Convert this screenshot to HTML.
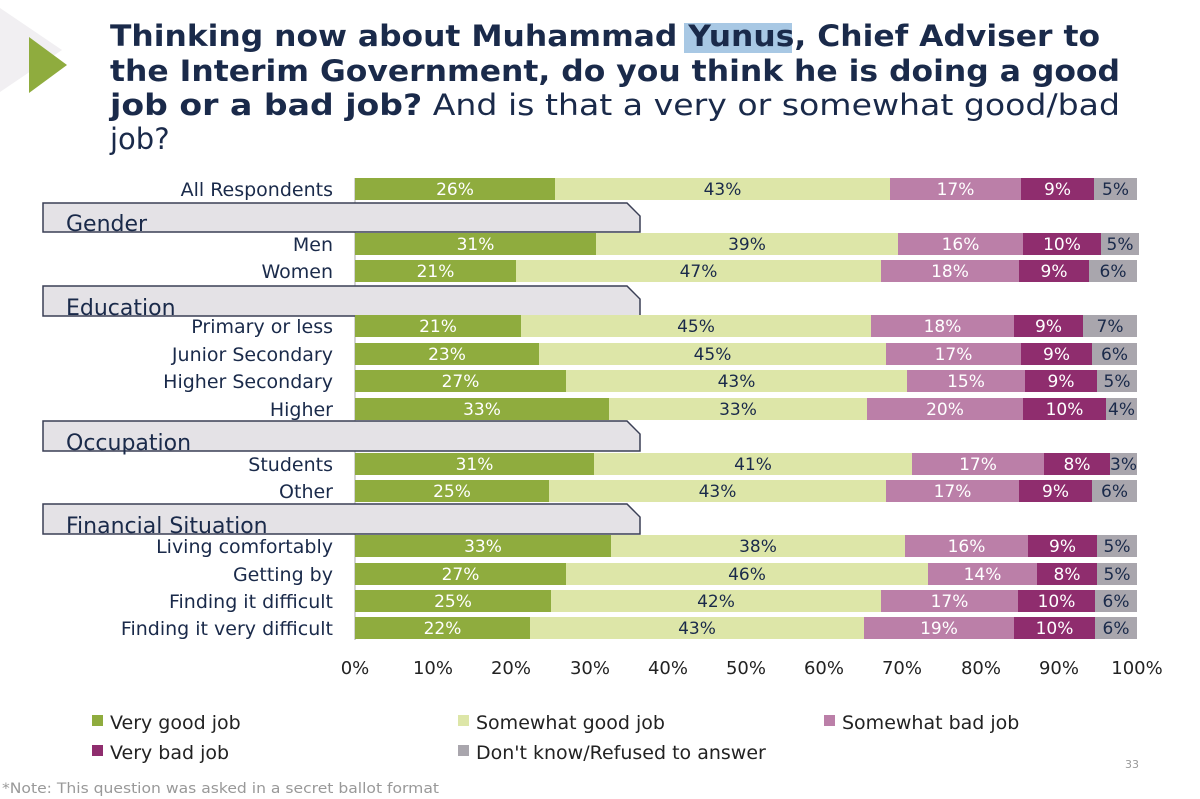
<!DOCTYPE html>
<html><head><meta charset="utf-8"><style>
html,body{margin:0;padding:0;background:#fff;}
svg{display:block;font-family:"DejaVu Sans","Liberation Sans",sans-serif;}
</style></head><body>
<svg width="1200" height="799" viewBox="0 0 1200 799" xmlns="http://www.w3.org/2000/svg">
<polygon points="0,8 0,92 62,50" fill="#f1eff2"/>
<polygon points="29,37 29,93 67,65" fill="#8fac3e"/>
<rect x="684" y="23" width="108" height="30" fill="#a8c8e4"/>
<g fill="#1a2a4a" font-size="29">
<text x="110" y="46" font-weight="bold" textLength="990" lengthAdjust="spacingAndGlyphs">Thinking now about Muhammad Yunus, Chief Adviser to</text>
<text x="110" y="81" font-weight="bold" textLength="1010" lengthAdjust="spacingAndGlyphs">the Interim Government, do you think he is doing a good</text>
<text x="110" y="115" textLength="1010" lengthAdjust="spacingAndGlyphs"><tspan font-weight="bold">job or a bad job?</tspan> And is that a very or somewhat good/bad</text>
<text x="110" y="149">job?</text>
</g>
<line x1="355" y1="178" x2="355" y2="640" stroke="#aaa" stroke-width="1"/>
<g fill="#e4e2e6" stroke="#3a3f55" stroke-width="1.5">
<path d="M43,203 L627,203 L640,216 L640,232 L43,232 Z"/>
<path d="M43,286 L627,286 L640,299 L640,316 L43,316 Z"/>
<path d="M43,421 L627,421 L640,434 L640,451 L43,451 Z"/>
<path d="M43,504 L627,504 L640,517 L640,534 L43,534 Z"/>
</g>
<g fill="#1a2a4a" font-size="22">
<text x="66" y="231">Gender</text>
<text x="66" y="315">Education</text>
<text x="66" y="450">Occupation</text>
<text x="66" y="533">Financial Situation</text>
</g>
<g id="bars" font-size="17" text-anchor="middle"></g>
<g fill="#1a2a4a" font-size="19" text-anchor="end" id="labels"></g>
<g font-size="18" fill="#222" text-anchor="middle">
<text x="355" y="674">0%</text><text x="433" y="674">10%</text><text x="511" y="674">20%</text><text x="590" y="674">30%</text><text x="668" y="674">40%</text><text x="746" y="674">50%</text><text x="824" y="674">60%</text><text x="902" y="674">70%</text><text x="981" y="674">80%</text><text x="1059" y="674">90%</text><text x="1137" y="674">100%</text>
</g>
<g font-size="19" fill="#222">
<rect x="92" y="715" width="11" height="11" fill="#8fac3e"/><text x="110" y="729">Very good job</text>
<rect x="458" y="715" width="11" height="11" fill="#dde6a8"/><text x="476" y="729">Somewhat good job</text>
<rect x="824" y="715" width="11" height="11" fill="#bb7fa8"/><text x="842" y="729">Somewhat bad job</text>
<rect x="92" y="745" width="11" height="11" fill="#8f2d6e"/><text x="110" y="759">Very bad job</text>
<rect x="458" y="745" width="11" height="11" fill="#a9a6ad"/><text x="476" y="759">Don't know/Refused to answer</text>
</g>
<text x="1125" y="768" font-size="11" fill="#999">33</text>
<text x="2" y="793" font-size="14" fill="#999" textLength="437" lengthAdjust="spacingAndGlyphs">*Note: This question was asked in a secret ballot format</text>
<script>
var rows=[
["All Respondents",189,[555,890,1021,1094,1137],["26%","43%","17%","9%","5%"]],
["Men",244,[596,898,1023,1101,1139],["31%","39%","16%","10%","5%"]],
["Women",271,[516,881,1019,1089,1137],["21%","47%","18%","9%","6%"]],
["Primary or less",326,[521,871,1014,1083,1137],["21%","45%","18%","9%","7%"]],
["Junior Secondary",354,[539,886,1021,1092,1137],["23%","45%","17%","9%","6%"]],
["Higher Secondary",381,[566,907,1025,1097,1137],["27%","43%","15%","9%","5%"]],
["Higher",409,[609,867,1023,1106,1137],["33%","33%","20%","10%","4%"]],
["Students",464,[594,912,1044,1110,1137],["31%","41%","17%","8%","3%"]],
["Other",491,[549,886,1019,1092,1137],["25%","43%","17%","9%","6%"]],
["Living comfortably",546,[611,905,1028,1097,1137],["33%","38%","16%","9%","5%"]],
["Getting by",574,[566,928,1037,1097,1137],["27%","46%","14%","8%","5%"]],
["Finding it difficult",601,[551,881,1018,1095,1137],["25%","42%","17%","10%","6%"]],
["Finding it very difficult",628,[530,864,1014,1095,1137],["22%","43%","19%","10%","6%"]]];
var cols=["#8fac3e","#dde6a8","#bb7fa8","#8f2d6e","#a9a6ad"];
var tc=["#fff","#1a2a4a","#fff","#fff","#1a2a4a"];
var ns="http://www.w3.org/2000/svg",b=document.getElementById("bars"),l=document.getElementById("labels");
rows.forEach(function(r){
 var x0=355;
 r[2].forEach(function(x1,i){
  var re=document.createElementNS(ns,"rect");
  re.setAttribute("x",x0);re.setAttribute("y",r[1]-11);re.setAttribute("width",x1-x0);re.setAttribute("height",22);re.setAttribute("fill",cols[i]);b.appendChild(re);
  var t=document.createElementNS(ns,"text");t.setAttribute("x",(x0+x1)/2);t.setAttribute("y",r[1]+6);t.setAttribute("fill",tc[i]);t.textContent=r[3][i];b.appendChild(t);
  x0=x1;});
 var lt=document.createElementNS(ns,"text");lt.setAttribute("x",333);lt.setAttribute("y",r[1]+7);lt.textContent=r[0];l.appendChild(lt);
});
</script>
</svg>
</body></html>
